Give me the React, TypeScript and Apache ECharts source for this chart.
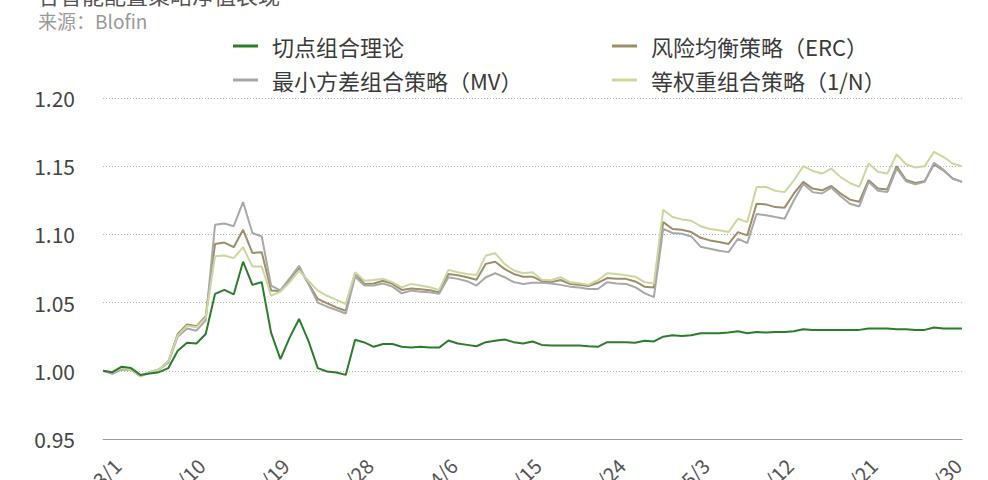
import React, { useEffect, useRef } from "react";
import * as echarts from "echarts";

const monthStarts = [3, 4, 5, 6];
const monthLengths = [31, 30, 31, 1];
const categories: string[] = [];
monthStarts.forEach((m, k) => {
  for (let d = 1; d <= monthLengths[k]; d++) categories.push(`${m}/${d}`);
});

const yTicks = [0.95, 1.0, 1.05, 1.1, 1.15, 1.2];

const seriesNames = ["切点组合理论", "风险均衡策略（ERC）", "最小方差组合策略（MV）", "等权重组合策略（1/N）"];

const tangent = [
  1.000, 0.999, 1.003, 1.002, 0.997, 0.998, 0.999, 1.002, 1.0147, 1.0205,
  1.020, 1.027, 1.0564, 1.0593, 1.056, 1.080, 1.063, 1.065, 1.028, 1.0086,
  1.0245, 1.038, 1.022, 1.002, 0.9995, 0.9988, 0.997, 1.0228, 1.0208, 1.0176,
  1.0196, 1.0196, 1.0176, 1.017, 1.0176, 1.017, 1.017, 1.0222, 1.020, 1.019,
  1.018, 1.021, 1.022, 1.023, 1.021, 1.020, 1.0215, 1.019, 1.0185, 1.0185,
  1.0185, 1.0185, 1.018, 1.0176, 1.021, 1.021, 1.021, 1.0205, 1.022, 1.0215,
  1.025, 1.026, 1.0255, 1.026, 1.0275, 1.0275, 1.0275, 1.028, 1.029, 1.0275,
  1.0285, 1.028, 1.0285, 1.0285, 1.029, 1.0304, 1.030, 1.030, 1.030, 1.030,
  1.030, 1.030, 1.031, 1.031, 1.031, 1.0305, 1.0305, 1.030, 1.030, 1.0318,
  1.031, 1.031, 1.031,
];

const erc = [
  1.000, 0.998, 1.001, 1.001, 0.996, 0.999, 1.001, 1.007, 1.027, 1.034,
  1.0326, 1.040, 1.093, 1.094, 1.0906, 1.1034, 1.0864, 1.087, 1.0588, 1.0585,
  1.067, 1.0755, 1.064, 1.0527, 1.0495, 1.0465, 1.044, 1.0715, 1.0637, 1.064,
  1.066, 1.0637, 1.0593, 1.0603, 1.0598, 1.059, 1.0575, 1.071, 1.070, 1.0686,
  1.0667, 1.0784, 1.080, 1.0747, 1.071, 1.069, 1.069, 1.0657, 1.065, 1.0666,
  1.0637, 1.063, 1.0622, 1.0645, 1.068, 1.0675, 1.0674, 1.0655, 1.0617, 1.061,
  1.109, 1.104, 1.1034, 1.1017, 1.0975, 1.0956, 1.0944, 1.093, 1.1017, 1.0993,
  1.1225, 1.122, 1.120, 1.1196, 1.130, 1.1385, 1.1336, 1.1323, 1.1355, 1.130,
  1.1255, 1.124, 1.1397, 1.1336, 1.133, 1.150, 1.140, 1.1377, 1.139, 1.1514,
  1.147, 1.141, 1.1385,
];

const mv = [
  1.000, 0.998, 1.001, 1.001, 0.996, 0.999, 1.001, 1.006, 1.025, 1.031,
  1.0294, 1.037, 1.107, 1.108, 1.106, 1.1237, 1.101, 1.0985, 1.0625, 1.059,
  1.068, 1.077, 1.0637, 1.050, 1.047, 1.0446, 1.042, 1.069, 1.0625, 1.0625,
  1.064, 1.0617, 1.0568, 1.0588, 1.058, 1.0575, 1.0564, 1.0686, 1.0674, 1.0657,
  1.0625, 1.0686, 1.0715, 1.0686, 1.065, 1.0637, 1.0645, 1.0645, 1.064, 1.063,
  1.0617, 1.061, 1.060, 1.060, 1.065, 1.064, 1.0637, 1.0613, 1.057, 1.054,
  1.104, 1.101, 1.1005, 1.0985, 1.091, 1.0895, 1.088, 1.087, 1.0968, 1.0936,
  1.115, 1.114, 1.1127, 1.1115, 1.125, 1.137, 1.131, 1.130, 1.1343, 1.128,
  1.1225, 1.1205, 1.1385, 1.132, 1.131, 1.1483, 1.139, 1.1367, 1.1385, 1.1524,
  1.1475, 1.141, 1.1385,
];

const equal = [
  1.000, 0.999, 1.002, 1.001, 0.996, 0.999, 1.001, 1.007, 1.026, 1.033,
  1.032, 1.039, 1.084, 1.0845, 1.0826, 1.0906, 1.0765, 1.0765, 1.055, 1.058,
  1.065, 1.0735, 1.066, 1.0588, 1.055, 1.052, 1.049, 1.0723, 1.066, 1.0666,
  1.0674, 1.065, 1.0612, 1.0637, 1.0625, 1.0612, 1.0593, 1.074, 1.0723, 1.071,
  1.0703, 1.0845, 1.0862, 1.0784, 1.0735, 1.0715, 1.0723, 1.0667, 1.0664, 1.0686,
  1.065, 1.0642, 1.063, 1.0664, 1.0715, 1.071, 1.070, 1.069, 1.065, 1.064,
  1.118, 1.1127, 1.111, 1.110, 1.106, 1.104, 1.103, 1.1017, 1.1115, 1.109,
  1.1348, 1.1348, 1.132, 1.131, 1.1397, 1.150, 1.1465, 1.1446, 1.1483, 1.142,
  1.1377, 1.1348, 1.152, 1.146, 1.1446, 1.1588, 1.1514, 1.149, 1.150, 1.1605,
  1.1568, 1.152, 1.150,
];

const colors = ["#2b7d2b", "#9d8e68", "#a8a8a8", "#ccd79e"];
const FONT = "'Noto Sans CJK SC', 'Noto Sans', sans-serif";

export default function App() {
  const ref = useRef<HTMLDivElement>(null);
  useEffect(() => {
    document.body.style.margin = "0";
    if (!ref.current) return;
    const chart = echarts.init(ref.current, undefined, { renderer: "svg" });
    const allSeries = [tangent, erc, mv, equal];
    const legendCommon = {
      orient: "vertical" as const,
      icon: "rect",
      padding: 0,
      itemWidth: 25,
      itemHeight: 3,
      itemGap: 12,
      textStyle: { fontFamily: FONT, fontSize: 22, color: "#3a3a3a", padding: [0, 0, 0, 9] },
      selectedMode: false,
    };
    chart.setOption({
      animation: false,
      color: colors,
      graphic: [
        {
          type: "text",
          left: 38,
          top: -17,
          style: { text: "各智能配置策略净值表现", font: `22px ${FONT}`, fill: "#555" },
        },
        {
          type: "text",
          left: 38,
          top: 11,
          style: { text: "来源：Blofin", font: `19px ${FONT}`, fill: "#9a9a9a" },
        },
      ],
      legend: [
        { ...legendCommon, left: 233, top: 35, data: [seriesNames[0], seriesNames[2]] },
        { ...legendCommon, left: 612, top: 35, data: [seriesNames[1], seriesNames[3]] },
      ],
      grid: {
        left: 103,
        right: 26,
        top: 98,
        bottom: 41,
        containLabel: false,
        outerBoundsMode: "none",
      },
      xAxis: {
        type: "category",
        data: categories,
        boundaryGap: false,
        axisLine: { show: true, lineStyle: { color: "#999", width: 1 } },
        axisTick: { show: false },
        axisLabel: {
          interval: 8,
          rotate: 45,
          margin: 37,
          padding: [0, -20, 0, 0],
          fontFamily: FONT,
          fontSize: 20,
          color: "#555",
        },
        splitLine: { show: false },
      },
      yAxis: {
        type: "value",
        min: yTicks[0],
        max: yTicks[yTicks.length - 1],
        interval: 0.05,
        axisLine: { show: false },
        axisTick: { show: false },
        axisLabel: {
          margin: 28,
          fontFamily: FONT,
          fontSize: 21,
          color: "#444",
          formatter: (v: number) => v.toFixed(2),
        },
        splitLine: { show: true, lineStyle: { color: "#b5b5b5", type: [1, 2], width: 1 } },
      },
      series: seriesNames.map((name, k) => ({
        name,
        type: "line",
        data: allSeries[k],
        symbol: "none",
        lineStyle: { width: 2, color: colors[k] },
        itemStyle: { color: colors[k] },
        z: k === 0 ? 5 : 2,
      })),
    });
    return () => chart.dispose();
  }, []);
  return <div ref={ref} style={{ width: 988, height: 480 }} />;
}
